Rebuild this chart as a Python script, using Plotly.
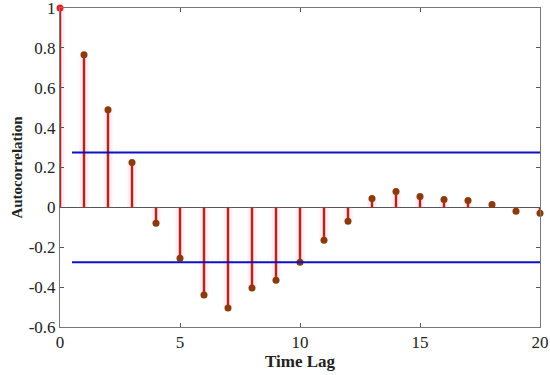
import plotly.graph_objects as go

lags = list(range(21))
acf = [1.0, 0.765, 0.49, 0.225, -0.08, -0.255, -0.44, -0.505, -0.405, -0.365,
       -0.275, -0.165, -0.07, 0.045, 0.08, 0.055, 0.04, 0.035, 0.015, -0.02, -0.03]
conf_upper = 0.275
conf_lower = -0.275
conf_x = [0.5, 20]
x_ticks = [0, 5, 10, 15, 20]
y_ticks = [-0.6, -0.4, -0.2, 0, 0.2, 0.4, 0.6, 0.8, 1]
y_ticktext = ["-0.6", "-0.4", "-0.2", "0", "0.2", "0.4", "0.6", "0.8", "1"]

fig = go.Figure()

# faint pink halo behind stems
hx, hy = [], []
for l, v in zip(lags, acf):
    hx += [l, l, None]
    hy += [0, v, None]
fig.add_trace(go.Scatter(x=hx, y=hy, mode="lines",
                         line=dict(color="rgba(255,120,220,0.15)", width=9),
                         hoverinfo="skip", showlegend=False, cliponaxis=False))

# stems
sx, sy = [], []
for l, v in zip(lags, acf):
    sx += [l, l, None]
    sy += [0, v, None]
fig.add_trace(go.Scatter(x=sx, y=sy, mode="lines",
                         line=dict(color="#B02A10", width=2.5),
                         hoverinfo="skip", showlegend=False, cliponaxis=False))

# markers
colors = ["#FF1A1A"] + ["#8B3A0A"] * (len(lags) - 1)
fig.add_trace(go.Scatter(x=lags, y=acf, mode="markers",
                         marker=dict(color=colors, size=7),
                         showlegend=False, cliponaxis=False))

# confidence bounds
for c in (conf_upper, conf_lower):
    fig.add_trace(go.Scatter(x=conf_x, y=[c, c], mode="lines",
                             line=dict(color="#1010C8", width=2),
                             showlegend=False))

fam = "Liberation Serif"

fig.update_layout(
    width=550, height=375,
    margin=dict(l=60, r=10, t=8, b=48, autoexpand=False),
    plot_bgcolor="white", paper_bgcolor="white",
    font=dict(family=fam, size=17, color="#222222"),
    xaxis=dict(range=[0, 20], tickvals=x_ticks, ticks="inside", ticklen=4,
               tickcolor="#555555", showline=True, linecolor="#777777", linewidth=1,
               mirror="ticks", showgrid=False, zeroline=False, automargin=False,
               ticklabeloverflow="allow",
               title=dict(text="<b>Time Lag</b>", font=dict(family=fam, size=17, color="#222222"), standoff=0),
               tickfont=dict(family=fam, size=17, color="#222222")),
    yaxis=dict(range=[-0.6, 1], tickvals=y_ticks, ticktext=y_ticktext,
               ticks="inside", ticklen=4, tickcolor="#555555",
               showline=True, linecolor="#777777", linewidth=1, mirror="ticks",
               showgrid=False, zeroline=True, zerolinecolor="#555555", zerolinewidth=1,
               automargin=False, ticklabeloverflow="allow",
               title=dict(text="<b>Autocorrelation</b>", font=dict(family=fam, size=15, color="#222222"), standoff=2),
               tickfont=dict(family=fam, size=17, color="#222222")),
)

fig.write_html("out.html", post_script="document.body.style.margin='0';",
               config={"displayModeBar": False})
